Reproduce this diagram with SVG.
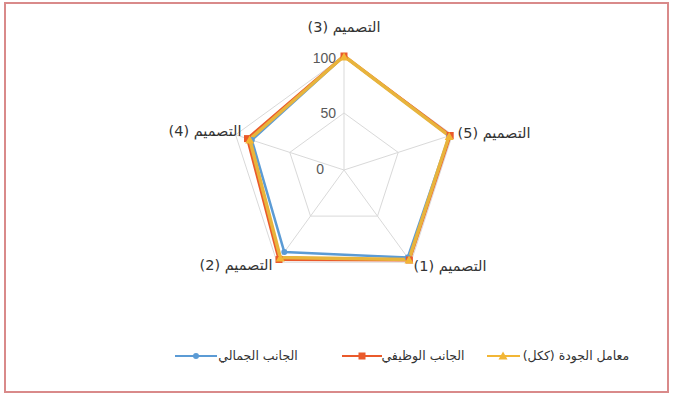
<svg xmlns="http://www.w3.org/2000/svg" width="673" height="396" viewBox="0 0 673 396">
<defs>
<style>
.t{font-family:"DejaVu Sans","Noto Sans",sans-serif;font-size:12.5px;fill:#333333;direction:rtl;unicode-bidi:embed}
.a{font-size:14.5px}
.n{font-family:"Liberation Sans",Arial,sans-serif;font-size:14px;fill:#595959}
.g{fill:none;stroke:#d9d9d9;stroke-width:1}
.sy{fill:none;stroke:#e8b43c;stroke-width:3.5;stroke-linejoin:round}
.sr{fill:none;stroke:#ea5a2b;stroke-width:3;stroke-linejoin:round}
.sb{fill:none;stroke:#5b9bd5;stroke-width:2.5;stroke-linejoin:round}
</style>
<rect id="mr" x="-3.5" y="-3.5" width="7" height="7" fill="#ea5a2b"/>
<polygon id="my" points="0,-4.5 4.5,3.5 -4.5,3.5" fill="#f2b635"/>
<circle id="mb" r="3" fill="#5b9bd5"/>
</defs>
<rect x="0" y="0" width="673" height="396" fill="#ffffff"/>
<rect x="5" y="3" width="663" height="389" fill="none" stroke="#d98a8a" stroke-width="2"/>
<g id="grid">
<polygon class="g" points="344,56 452.4,134.8 411,262.2 277,262.2 235.6,134.8"/>
<polygon class="g" points="344,113 398.2,152.4 377.5,216.1 310.5,216.1 289.8,152.4"/>
<line class="g" x1="344" y1="170" x2="344" y2="56"/>
<line class="g" x1="344" y1="170" x2="452.4" y2="134.8"/>
<line class="g" x1="344" y1="170" x2="411" y2="262.2"/>
<line class="g" x1="344" y1="170" x2="277" y2="262.2"/>
<line class="g" x1="344" y1="170" x2="235.6" y2="134.8"/>
</g>
<g id="ticks">
<text class="n" x="336" y="63" text-anchor="end">100</text>
<text class="n" x="336" y="118" text-anchor="end">50</text>
<text class="n" x="324" y="174" text-anchor="end">0</text>
</g>
<g id="connectors">
<polygon id="series-blue" class="sb" points="344,56 449.2,135.8 407.7,257.6 284.3,252.1 251.8,140"/>
<polygon id="series-red" class="sr" points="344,56 450.2,135.5 409.4,260 279,259.5 247.5,138.6"/>
<polygon id="series-yellow" class="sy" points="344,56 449.2,135.8 409,259.5 280.3,257.6 249.7,139.3"/>
</g>
<g id="markers">
<use href="#mb" x="344" y="56"/><use href="#mb" x="449.2" y="135.8"/><use href="#mb" x="407.7" y="257.6"/><use href="#mb" x="284.3" y="252.1"/><use href="#mb" x="251.8" y="140"/>
<use href="#mr" x="344" y="56"/><use href="#mr" x="450.2" y="135.5"/><use href="#mr" x="409.4" y="260"/><use href="#mr" x="279" y="259.5"/><use href="#mr" x="247.5" y="138.6"/>
<use href="#my" x="344" y="57"/><use href="#my" x="449.2" y="136.5"/><use href="#my" x="409" y="260"/><use href="#my" x="280.3" y="258"/><use href="#my" x="249.7" y="140"/>
</g>
<g id="node-3"><text class="t a" x="344" y="32" text-anchor="middle">التصميم (3)</text></g>
<g id="node-5"><text class="t a" x="494" y="138" text-anchor="middle">التصميم (5)</text></g>
<g id="node-1"><text class="t a" x="450" y="271" text-anchor="middle">التصميم (1)</text></g>
<g id="node-2"><text class="t a" x="236" y="270" text-anchor="middle">التصميم (2)</text></g>
<g id="node-4"><text class="t a" x="205" y="136" text-anchor="middle">التصميم (4)</text></g>
<g id="legend">
<text class="t" x="576" y="360" text-anchor="middle">معامل الجودة  (ككل)</text>
<line x1="487" y1="356" x2="520" y2="356" stroke="#f2b635" stroke-width="2"/>
<use href="#my" x="503" y="356"/>
<text class="t" x="423" y="360" text-anchor="middle">الجانب الوظيفي</text>
<line x1="342" y1="356" x2="382" y2="356" stroke="#ea5a2b" stroke-width="2"/>
<use href="#mr" x="362" y="356"/>
<text class="t" x="258" y="360" text-anchor="middle">الجانب الجمالي</text>
<line x1="175" y1="356" x2="217" y2="356" stroke="#5b9bd5" stroke-width="2"/>
<use href="#mb" x="196" y="356"/>
</g>
</svg>
